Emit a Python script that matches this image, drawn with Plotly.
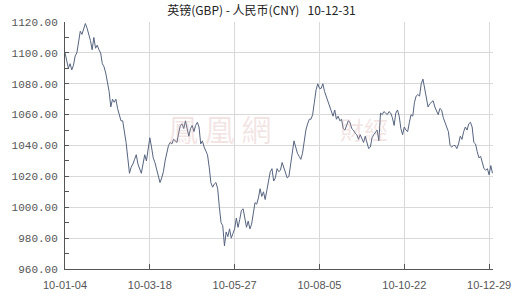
import plotly.graph_objects as go

title_text = "英镑(GBP) - 人民币(CNY)   10-12-31"

tick_labels = ["10-01-04", "10-03-18", "10-05-27", "10-08-05", "10-10-22", "10-12-29"]
tick_index = [0, 50, 100, 150, 200, 250]

rate = [
    1100, 1095, 1090, 1093, 1089, 1092, 1098, 1100, 1108, 1114,
    1112, 1116, 1119, 1116, 1112, 1108, 1102, 1110, 1103, 1105,
    1102, 1100, 1093, 1091, 1087, 1082, 1075, 1065, 1070, 1068,
    1070, 1064, 1059, 1056, 1056, 1050, 1042, 1032, 1022, 1026,
    1028, 1031, 1034, 1028, 1025, 1022, 1028, 1034, 1030, 1037,
    1045, 1039, 1032, 1029, 1024, 1019, 1016, 1019, 1023, 1030,
    1035, 1040, 1042, 1041, 1044, 1043, 1042, 1048, 1053, 1054,
    1051, 1056, 1051, 1046, 1051, 1053, 1049, 1053, 1055, 1052,
    1041, 1043, 1039, 1037, 1034, 1026, 1016, 1013, 1015, 1016,
    1012, 1000, 990, 988, 975, 984, 981, 986, 980, 983,
    986, 993, 987, 992, 998, 999, 994, 987, 991, 986,
    989, 996, 1003, 1002, 1006, 1012, 1007, 1010, 1005, 1011,
    1017, 1023, 1025, 1017, 1019, 1025, 1023, 1024, 1029, 1026,
    1022, 1019, 1020, 1029, 1035, 1043, 1039, 1035, 1033, 1031,
    1035, 1044, 1050, 1054, 1057, 1057, 1060, 1068, 1076, 1080,
    1077, 1077, 1080, 1075, 1072, 1068, 1065, 1062, 1059, 1063,
    1057, 1059, 1056, 1057, 1051, 1050, 1053, 1056, 1055, 1051,
    1050, 1048, 1047, 1044, 1047, 1044, 1042, 1046, 1041, 1038,
    1039, 1045, 1047, 1049, 1050, 1043, 1061, 1060, 1062, 1061,
    1060, 1062, 1061, 1058, 1053, 1061, 1063, 1059, 1051, 1047,
    1052, 1050, 1049, 1055, 1060, 1059, 1068, 1072, 1073, 1072,
    1080, 1083, 1076, 1069, 1065, 1067, 1068, 1069, 1065, 1062,
    1060, 1064, 1063, 1058, 1055, 1052, 1049, 1040, 1039, 1040,
    1040, 1038, 1041, 1046, 1044, 1049, 1052, 1050, 1054, 1055,
    1052, 1042, 1041, 1036, 1032, 1033, 1028, 1025, 1024, 1025,
    1021, 1027, 1022,
]

x_idx = list(range(len(rate)))

fig = go.Figure()
fig.add_trace(go.Scatter(
    x=x_idx, y=rate, mode="lines",
    line=dict(color="#56647f", width=1),
    hoverinfo="skip", showlegend=False,
))

# faint watermark
fig.add_annotation(text="鳳 凰 網", x=0.36, y=0.57, xref="paper", yref="paper",
                   showarrow=False, font=dict(family="Noto Sans CJK TC", size=30,
                                              color="rgba(215,160,160,0.28)"))
fig.add_annotation(text="財經", x=0.76, y=0.57, xref="paper", yref="paper",
                   showarrow=False, font=dict(family="Noto Sans CJK TC", size=24,
                                              color="rgba(215,160,160,0.28)"))

fig.update_layout(
    width=523, height=307,
    margin=dict(l=63, r=30, t=22, b=38),
    paper_bgcolor="white", plot_bgcolor="white",
    title=dict(text=title_text, x=0.5, xanchor="center", y=0.965, yanchor="middle",
               font=dict(family="Noto Sans CJK SC", size=12, color="#222")),
    xaxis=dict(
        range=[0, 252.3], tickmode="array", tickvals=tick_index, ticktext=tick_labels,
        showgrid=True, gridcolor="#d9d9d9", gridwidth=1,
        showline=True, linecolor="#555", linewidth=1,
        ticks="inside", ticklen=5, tickcolor="#555",
        tickfont=dict(family="Liberation Sans", size=11, color="#555"),
        ticklabelstandoff=6,
        zeroline=False, fixedrange=True,
    ),
    yaxis=dict(
        range=[960, 1120], tickmode="linear", tick0=960, dtick=20, tickformat=".2f",
        showgrid=True, gridcolor="#d9d9d9", gridwidth=1,
        showline=True, linecolor="#555", linewidth=1,
        ticks="inside", ticklen=4, tickcolor="#555",
        minor=dict(dtick=10, tick0=960, ticks="inside", ticklen=4, tickcolor="#555", showgrid=False),
        tickfont=dict(family="Liberation Mono", size=11, color="#555"),
        ticklabelstandoff=4,
        zeroline=False, fixedrange=True,
    ),
)

fig.write_html("out.html")
